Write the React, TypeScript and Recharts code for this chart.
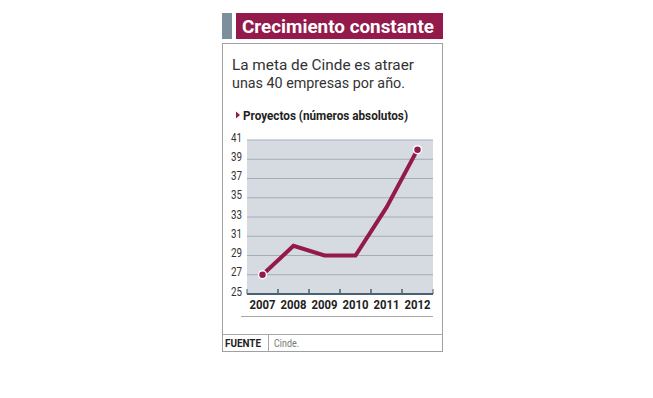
import React from 'react';
import { LineChart, Line, XAxis, YAxis, CartesianGrid } from 'recharts';

const years = ['2007', '2008', '2009', '2010', '2011', '2012'];
const projects = [27, 30, 29, 29, 34, 40];
const yTicks = [25, 27, 29, 31, 33, 35, 37, 39, 41];

const data = years.map((y, i) => ({ year: y, value: projects[i] }));

const MAROON = '#931a4b';
const FONT = 'Roboto, "Noto Sans", sans-serif';

const YTick = (props: any) => {
  const { x, y, payload } = props;
  return (
    <text x={x} y={y} dy={1.5} textAnchor="end" fontFamily={FONT} fontSize={12} fill="#333"
      textLength={11} lengthAdjust="spacingAndGlyphs">
      {payload.value}
    </text>
  );
};

const XTick = (props: any) => {
  const { x, y, payload } = props;
  const half = 15.5;
  return (
    <g>
      <line x1={x - half} x2={x - half} y1={y - 5} y2={y} stroke="#4a6073" strokeWidth={1} />
      <line x1={x + half} x2={x + half} y1={y - 5} y2={y} stroke="#4a6073" strokeWidth={1} />
      <text x={x} y={y + 15} textAnchor="middle" fontFamily={FONT} fontWeight="bold" fontSize={12.5}
        fill="#222" textLength={26} lengthAdjust="spacingAndGlyphs">
        {payload.value}
      </text>
    </g>
  );
};

const EndDot = (props: any) => {
  const { cx, cy, index } = props;
  if (index !== 0 && index !== data.length - 1) return <g key={index} />;
  return <circle key={index} cx={cx} cy={cy} r={4} fill={MAROON} stroke="#fff" strokeWidth={1.5} />;
};

export default function App() {
  return (
    <div style={{ position: 'absolute', left: 0, top: 0, width: 653, height: 398, background: '#fff' }}>
      <svg width={653} height={398} style={{ position: 'absolute', left: 0, top: 0 }}>
        <rect x={222} y={13} width={10} height={26} fill="#7d8e9d" />
        <rect x={236} y={13} width={207} height={26} fill={MAROON} />
        <text x={242} y={33} fontFamily={FONT} fontWeight="bold" fontSize={19} fill="#fff"
          textLength={192} lengthAdjust="spacingAndGlyphs">Crecimiento constante</text>
        <rect x={222.5} y={43.5} width={220} height={308} fill="none" stroke="#a0a0a0" strokeWidth={1} />
        <text x={232} y={69.5} fontFamily={FONT} fontSize={15.5} fill="#333"
          textLength={182} lengthAdjust="spacingAndGlyphs">La meta de Cinde es atraer</text>
        <text x={232} y={88} fontFamily={FONT} fontSize={15.5} fill="#333"
          textLength={173} lengthAdjust="spacingAndGlyphs">unas 40 empresas por año.</text>
        <polygon points="236,111.5 240,115 236,118.5" fill={MAROON} />
        <text x={243} y={120} fontFamily={FONT} fontWeight="bold" fontSize={12.5} fill="#222"
          textLength={165} lengthAdjust="spacingAndGlyphs">Proyectos (números absolutos)</text>
        <line x1={241} x2={433} y1={316.5} y2={316.5} stroke="#a8a8a8" strokeWidth={1} />
        <line x1={222} x2={443} y1={334.5} y2={334.5} stroke="#a8a8a8" strokeWidth={1} />
        <line x1={268.5} x2={268.5} y1={334} y2={351} stroke="#a8a8a8" strokeWidth={1} />
        <text x={225} y={346.5} fontFamily={FONT} fontWeight="bold" fontSize={10.5} fill="#222"
          textLength={36} lengthAdjust="spacingAndGlyphs">FUENTE</text>
        <text x={274} y={346.5} fontFamily={FONT} fontSize={10.5} fill="#777"
          textLength={25} lengthAdjust="spacingAndGlyphs">Cinde.</text>
      </svg>
      <div style={{ position: 'absolute', left: 222, top: 130 }}>
        <LineChart width={221} height={190} data={data} margin={{ top: 10, right: 10, bottom: 0, left: 0 }}>
          <CartesianGrid vertical={false} fill="#d6dbe2" stroke="#a3adb8" strokeWidth={1} />
          <XAxis dataKey="year" scale="band" height={26} tickSize={0} tickMargin={0} tickLine={false}
            axisLine={{ stroke: '#4a6073', strokeWidth: 2 }} tick={<XTick />} interval={0} />
          <YAxis domain={[25, 41]} ticks={yTicks} width={25} tickSize={0} tickMargin={5} tickLine={false}
            axisLine={false} tick={<YTick />} interval={0} />
          <Line type="linear" dataKey="value" stroke={MAROON} strokeWidth={4} dot={<EndDot />}
            activeDot={false} isAnimationActive={false} />
        </LineChart>
      </div>
    </div>
  );
}
